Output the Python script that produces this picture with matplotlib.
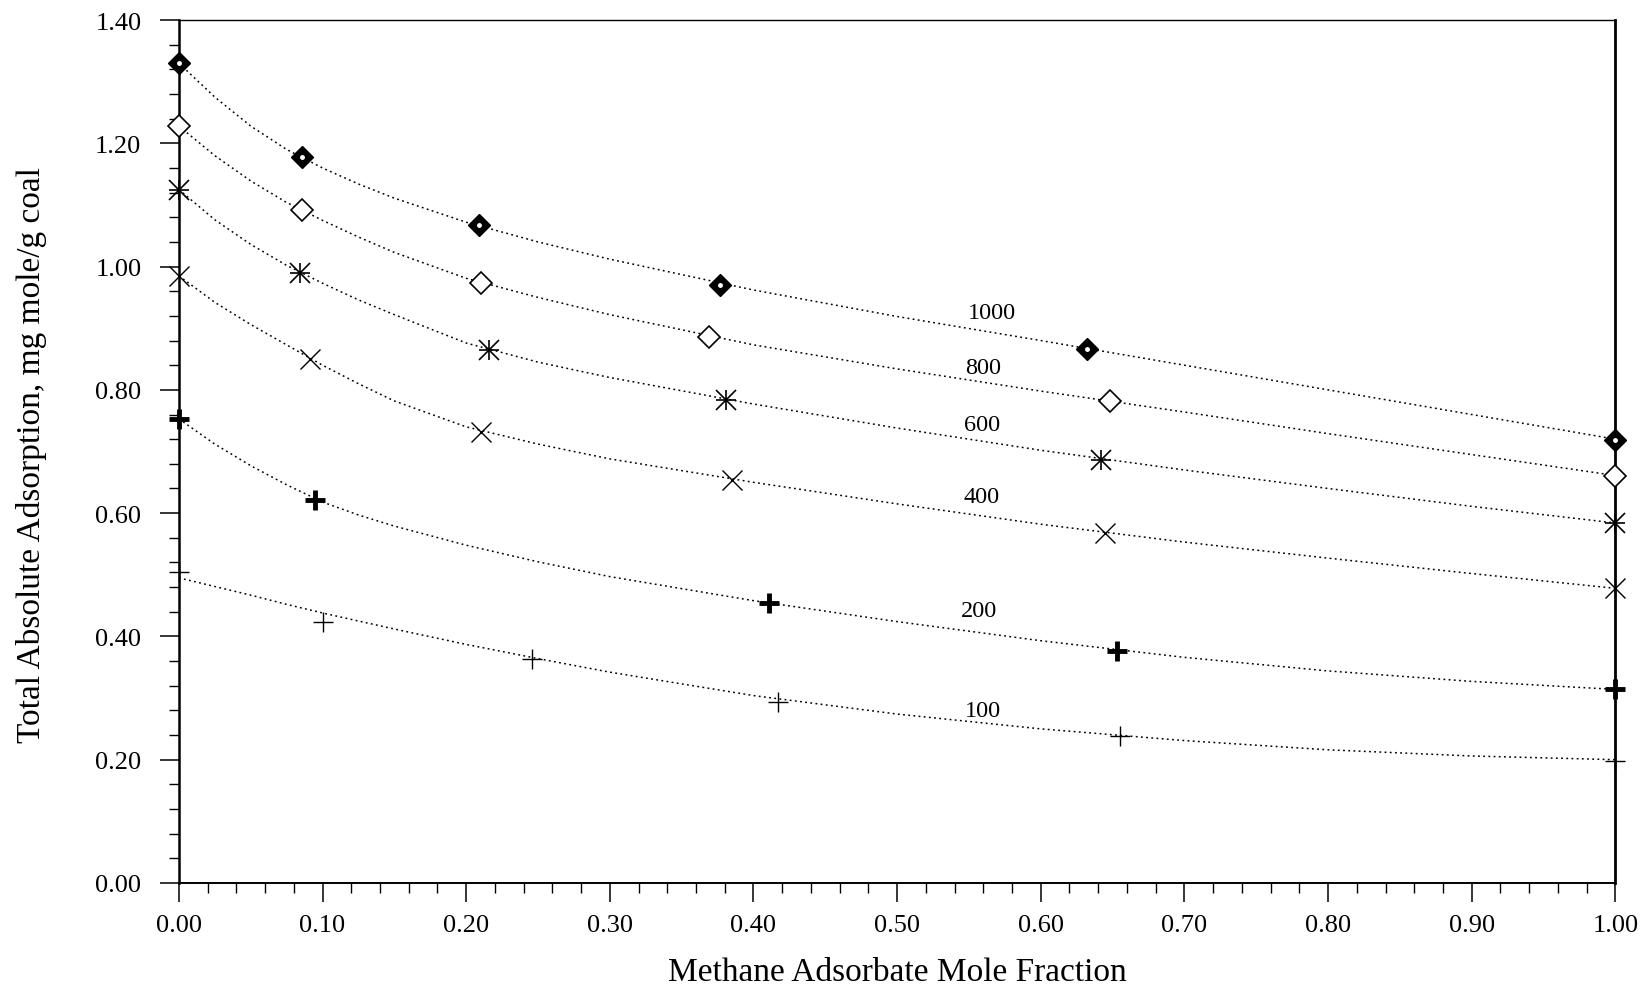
import matplotlib.pyplot as plt
from matplotlib.ticker import MultipleLocator, FormatStrFormatter

# measured points (methane mole fraction, total absolute adsorption)
x_1000 = [0.0, 0.086, 0.209, 0.377, 0.632, 1.0]
y_1000 = [1.330, 1.178, 1.067, 0.970, 0.867, 0.719]
x_800 = [0.0, 0.086, 0.210, 0.369, 0.648, 1.0]
y_800 = [1.228, 1.091, 0.973, 0.886, 0.782, 0.661]
x_600 = [0.0, 0.084, 0.216, 0.381, 0.642, 1.0]
y_600 = [1.125, 0.990, 0.864, 0.784, 0.686, 0.584]
x_400 = [0.0, 0.091, 0.210, 0.385, 0.645, 1.0]
y_400 = [0.985, 0.850, 0.732, 0.654, 0.567, 0.478]
x_200 = [0.0, 0.095, 0.411, 0.653, 1.0]
y_200 = [0.753, 0.621, 0.454, 0.377, 0.314]
x_100 = [0.0, 0.100, 0.246, 0.417, 0.655, 1.0]
y_100 = [0.505, 0.423, 0.364, 0.294, 0.239, 0.198]

# fitted curves
fit_x = [0.0, 0.025, 0.05, 0.075, 0.1, 0.125, 0.15, 0.2, 0.25, 0.3, 0.4, 0.5, 0.6, 0.7, 0.8, 0.9, 1.0]
fit_1000 = [1.330, 1.275, 1.228, 1.190, 1.160, 1.134, 1.111, 1.072, 1.040, 1.012, 0.962, 0.919, 0.880, 0.840, 0.800, 0.760, 0.720]
fit_800 = [1.228, 1.180, 1.139, 1.104, 1.075, 1.048, 1.023, 0.981, 0.950, 0.922, 0.873, 0.834, 0.798, 0.764, 0.729, 0.695, 0.661]
fit_600 = [1.125, 1.076, 1.036, 1.002, 0.973, 0.946, 0.922, 0.876, 0.845, 0.820, 0.777, 0.738, 0.702, 0.670, 0.640, 0.611, 0.584]
fit_400 = [0.985, 0.942, 0.906, 0.873, 0.840, 0.810, 0.782, 0.740, 0.712, 0.688, 0.650, 0.615, 0.582, 0.553, 0.527, 0.502, 0.478]
fit_200 = [0.753, 0.712, 0.677, 0.646, 0.618, 0.597, 0.579, 0.548, 0.521, 0.497, 0.458, 0.424, 0.393, 0.366, 0.344, 0.327, 0.314]
fit_100 = [0.495, 0.481, 0.467, 0.452, 0.438, 0.425, 0.412, 0.387, 0.364, 0.342, 0.304, 0.274, 0.250, 0.231, 0.216, 0.206, 0.200]

pressures = ['1000', '800', '600', '400', '200', '100']
label_x = [0.566, 0.560, 0.559, 0.559, 0.557, 0.560]
label_y = [0.925, 0.837, 0.743, 0.627, 0.442, 0.280]

plt.rcParams['font.family'] = 'Liberation Serif'

fig = plt.figure(figsize=(16.5, 9.87), dpi=100)
ax = fig.add_axes([0.1084, 0.1044, 0.8706, 0.8743])

# dotted fit curves
for fy in [fit_1000, fit_800, fit_600, fit_400, fit_200, fit_100]:
    ax.plot(fit_x, fy, color='black', linestyle=(0, (1.2, 2.2)), lw=1.1)

# markers
ax.plot(x_1000, y_1000, 'D', ms=11.5, mfc='black', mec='black', clip_on=False, zorder=5)
ax.plot(x_1000, y_1000, 'o', ms=2.5, mfc='white', mec='white', clip_on=False, zorder=6)
ax.plot(x_800, y_800, 'D', ms=11.5, mfc='white', mec='black', mew=1.2, clip_on=False, zorder=5)
ax.plot(x_600, y_600, 'x', ms=14, mec='black', mew=1.2, clip_on=False, zorder=5)
ax.plot(x_600, y_600, '+', ms=15, mec='black', mew=1.2, clip_on=False, zorder=5)
ax.plot(x_400, y_400, 'x', ms=15, mec='black', mew=1.0, clip_on=False, zorder=5)
ax.plot(x_200, y_200, '+', ms=15, mec='black', mew=3.5, clip_on=False, zorder=5)
ax.plot(x_100, y_100, '+', ms=15, mec='black', mew=1.0, clip_on=False, zorder=5)

for p, lx, ly in zip(pressures, label_x, label_y):
    ax.text(lx, ly, p, fontsize=17.5, ha='center', va='center')

ax.set_xlim(0, 1.0)
ax.set_ylim(0, 1.40)
ax.xaxis.set_major_locator(MultipleLocator(0.1))
ax.xaxis.set_minor_locator(MultipleLocator(0.02))
ax.yaxis.set_major_locator(MultipleLocator(0.2))
ax.yaxis.set_minor_locator(MultipleLocator(0.04))
ax.xaxis.set_major_formatter(FormatStrFormatter('%.2f'))
ax.yaxis.set_major_formatter(FormatStrFormatter('%.2f'))
ax.tick_params(which='major', direction='out', length=14, width=1.1, labelsize=19)
ax.tick_params(axis='x', which='major', pad=8)
ax.tick_params(axis='y', which='major', pad=13)
ax.tick_params(which='minor', direction='out', length=7, width=1.0)

for side, w in [('left', 1.8), ('right', 2.0), ('bottom', 1.4), ('top', 1.0)]:
    ax.spines[side].set_linewidth(w)

ax.set_xlabel('Methane Adsorbate Mole Fraction', fontsize=24)
ax.set_ylabel('Total Absolute Adsorption, mg mole/g coal', fontsize=24)
ax.xaxis.set_label_coords(0.5, -0.085)
ax.yaxis.set_label_coords(-0.092, 0.497)

plt.savefig('out.png', dpi=100)
